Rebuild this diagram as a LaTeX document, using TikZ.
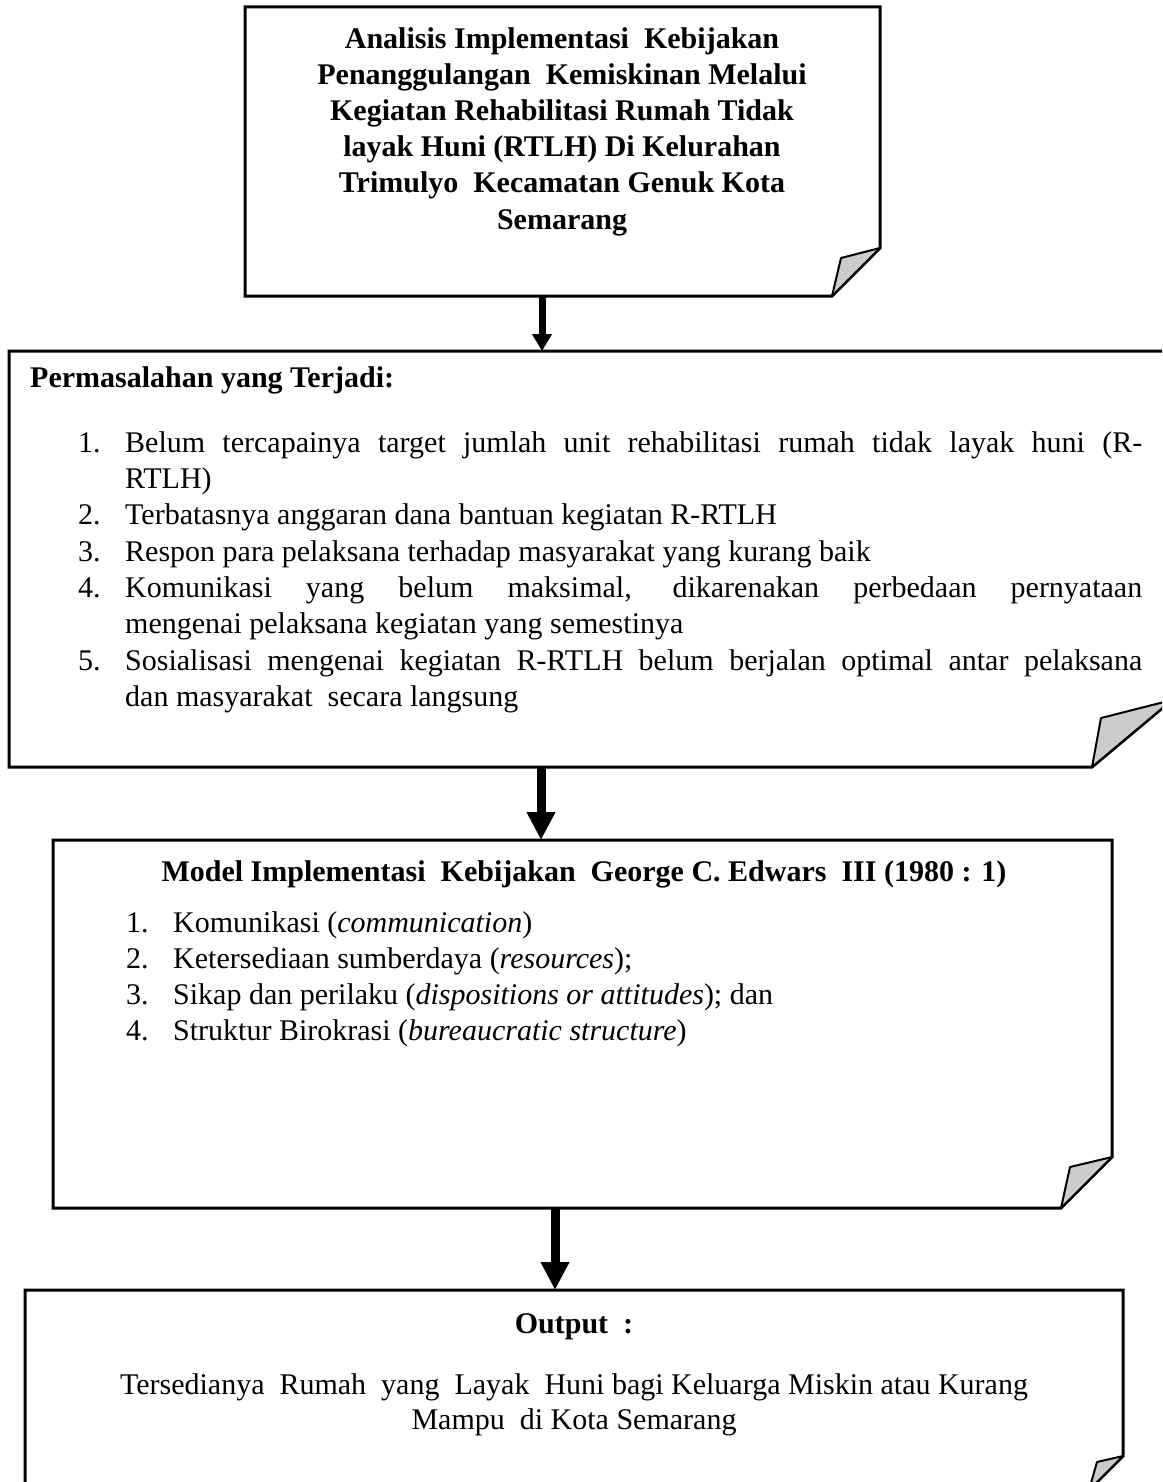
\documentclass[tikz,border=0pt]{standalone}
\usepackage{fontspec}
\setmainfont{Liberation Serif}
\usetikzlibrary{arrows.meta}
\begin{document}
\begin{tikzpicture}[x=1pt,y=-1pt,
  box/.style={line width=3pt, draw=black, fill=white, line join=miter},
  flap/.style={line width=2pt, draw=black, fill=black!20, line join=round},
  txt/.style={inner sep=0pt, anchor=base west, font=\fontsize{30}{36}\selectfont},
  ctxt/.style={inner sep=0pt, anchor=base, font=\fontsize{30}{36}\selectfont},
  btxt/.style={inner sep=0pt, anchor=base, font=\bfseries\fontsize{30}{36}\selectfont},
  arr/.style={line width=7pt, -{Triangle[width=19pt,length=17pt]}},
  bigarr/.style={line width=9pt, -{Triangle[width=27pt,length=28pt]}}]
\useasboundingbox (0,0) rectangle (1162,1482);
\clip (0,0) rectangle (1162,1482);

% ---------- Box 1 ----------
\draw[box] (245,7) -- (880,7) -- (880,248) -- (832,296) -- (245,296) -- cycle;
\draw[flap] (880,248) -- (841,258) -- (832,296) -- cycle;
\node[btxt] (t1) at (562,49)  {Analisis Implementasi\ \ Kebijakan};
\node[btxt] (t2) at (562,85)  {Penanggulangan\ \ Kemiskinan Melalui};
\node[btxt] (t3) at (562,121) {Kegiatan Rehabilitasi Rumah Tidak};
\node[btxt] (t4) at (562,157) {layak Huni (RTLH) Di Kelurahan};
\node[btxt] (t5) at (562,193) {Trimulyo\ \ Kecamatan Genuk Kota};
\node[btxt] (t6) at (562,229) {Semarang};

% ---------- Box 2 ----------
\draw[box] (9,351) -- (1172,351) -- (1172,700) -- (1092,767) -- (9,767) -- cycle;
\draw[flap] (1172,700) -- (1101,718) -- (1092,767) -- cycle;
\node[txt, font=\bfseries\fontsize{30}{36}\selectfont] (h2) at (30,387) {Permasalahan yang Terjadi:};
\node[txt] (n21) at (78,452) {1.};
\node[txt] (p21a) at (125,452) {\makebox[1017pt][s]{Belum tercapainya target jumlah unit rehabilitasi rumah tidak layak huni (R-}};
\node[txt] (p21b) at (125,488) {RTLH)};
\node[txt] (n22) at (78,524) {2.};
\node[txt] (p22) at (125,524) {Terbatasnya anggaran dana bantuan kegiatan R-RTLH};
\node[txt] (n23) at (78,561) {3.};
\node[txt] (p23) at (125,561) {Respon para pelaksana terhadap masyarakat yang kurang baik};
\node[txt] (n24) at (78,597) {4.};
\node[txt] (p24a) at (125,597) {\makebox[1017pt][s]{Komunikasi yang belum maksimal, dikarenakan perbedaan pernyataan}};
\node[txt] (p24b) at (125,633) {mengenai pelaksana kegiatan yang semestinya};
\node[txt] (n25) at (78,670) {5.};
\node[txt] (p25a) at (125,670) {\makebox[1017pt][s]{Sosialisasi mengenai kegiatan R-RTLH belum berjalan optimal antar pelaksana}};
\node[txt] (p25b) at (125,706) {dan masyarakat\ \ secara langsung};

% ---------- Box 3 ----------
\draw[box] (53,840) -- (1112,840) -- (1112,1157) -- (1061,1208) -- (53,1208) -- cycle;
\draw[flap] (1112,1157) -- (1070,1167) -- (1061,1208) -- cycle;
\node[btxt] (h3) at (584,881) {Model Implementasi\ \ Kebijakan\ \ George C. Edwars\ \ III (1980 : 1)};
\node[txt] (n31) at (126,932) {1.};
\node[txt] (p31) at (173,932) {Komunikasi (\textit{communication})};
\node[txt] (n32) at (126,968) {2.};
\node[txt] (p32) at (173,968) {Ketersediaan sumberdaya (\textit{resources});};
\node[txt] (n33) at (126,1004) {3.};
\node[txt] (p33) at (173,1004) {Sikap dan perilaku (\textit{dispositions or attitudes}); dan};
\node[txt] (n34) at (126,1040) {4.};
\node[txt] (p34) at (173,1040) {Struktur Birokrasi (\textit{bureaucratic structure})};

% ---------- Box 4 ----------
\draw[box] (25,1290) -- (1123,1290) -- (1123,1456) -- (1089,1490) -- (25,1490) -- cycle;
\draw[flap] (1123,1456) -- (1097,1462) -- (1089,1490) -- cycle;
\node[btxt] (h4) at (574,1333) {Output\ \ :};
\node[ctxt] (p41) at (574,1394) {Tersedianya\ \ Rumah\ \ yang\ \ Layak\ \ Huni bagi Keluarga Miskin atau Kurang};
\node[ctxt] (p42) at (574,1429) {Mampu\ \ di Kota Semarang};

% ---------- Arrows ----------
\coordinate (b1s) at (542,296);
\coordinate (b2n) at (542,351);
\coordinate (b2s) at (541,767);
\coordinate (b3n) at (541,840);
\coordinate (b3s) at (555,1208);
\coordinate (b4n) at (555,1290);
\draw[arr] (b1s) -- (b2n);
\draw[bigarr] (b2s) -- (b3n);
\draw[bigarr] (b3s) -- (b4n);
\end{tikzpicture}
\end{document}
